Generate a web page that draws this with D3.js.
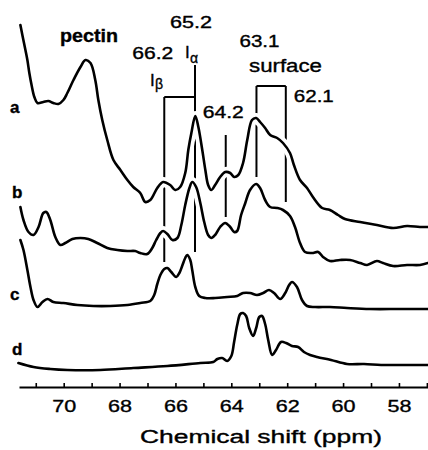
<!DOCTYPE html>
<html><head><meta charset="utf-8">
<script src="https://cdn.jsdelivr.net/npm/d3@7"></script>
<style>body{margin:0;background:#fff} svg{display:block}</style>
</head><body>
<svg id="chart" width="428" height="450"></svg>
<script>
// ---------------- DATA ----------------
const traceNames = ["a", "b", "c", "d"];

const shiftA = [71.55,71.48,71.37,71.30,71.23,71.15,71.05,70.94,70.73,70.55,70.37,70.19,70.01,69.87,69.65,69.40,69.22,69.04,68.87,68.76,68.62,68.44,68.22,67.97,67.72,67.51,67.26,67.08,66.90,66.65,66.44,66.19,66.01,65.83,65.65,65.54,65.43,65.29,65.18,65.04,64.93,64.83,64.72,64.58,64.40,64.22,64.04,63.90,63.75,63.58,63.43,63.26,63.11,62.97,62.79,62.61,62.36,62.15,61.90,61.76,61.54,61.29,61.08,60.75,60.47,60.18,59.93,59.39,58.79,58.21,57.71,57.25,56.96];
const intA = [202,192,177,167,154,142,130,124,125,126,124,123,127,134,147,160,167,164,147,127,107,87,67,57,47,40,34,25,27,39,45,42,37,40,54,77,94,111,100,77,57,42,37,42,50,55,54,50,52,64,87,107,109,105,99,92,89,84,74,62,47,39,30,19,17,12,8,5,2,-1,1,0,0];

const shiftB = [71.55,71.44,71.26,71.08,70.90,70.73,70.62,70.48,70.30,70.12,69.94,69.69,69.40,69.12,68.80,68.44,68.08,67.72,67.44,67.26,67.01,66.83,66.69,66.54,66.44,66.29,66.11,65.93,65.79,65.65,65.50,65.40,65.26,65.11,64.97,64.83,64.72,64.58,64.40,64.22,64.04,63.90,63.79,63.65,63.50,63.33,63.11,62.97,62.79,62.61,62.36,62.15,61.90,61.72,61.54,61.36,61.11,60.89,60.72,60.47,60.11,59.75,59.39,59.14,58.79,58.57,58.21,57.71,57.25,56.96];
const intB = [56,43,31,28,36,50,51,43,26,18,20,24,25,24,20,15,13,12,12,10,9,15,23,30,32,29,23,25,38,58,75,81,76,60,41,28,25,28,36,40,36,31,32,48,60,73,79,75,63,56,55,53,47,36,20,11,10,11,6,2,3,3,0,-2,2,0,-3,-2,-2,0];

const shiftC = [71.55,71.44,71.30,71.19,71.08,70.94,70.76,70.58,70.37,70.01,69.51,68.94,68.33,67.72,67.26,66.90,66.76,66.65,66.54,66.40,66.29,66.15,65.97,65.86,65.76,65.65,65.58,65.47,65.40,65.29,65.15,64.93,64.58,64.15,63.79,63.58,63.33,63.08,62.86,62.65,62.47,62.25,62.07,61.93,61.83,61.65,61.47,61.29,61.00,60.47,59.86,59.04,57.96,56.96];
const intC = [69,59,39,22,9,2,7,10,7,6,4,3,3,4,6,8,14,25,34,40,41,37,32,36,43,51,54,49,39,22,13,11,11,12,13,16,16,14,16,19,16,10,16,24,27,22,9,3,2,2,1,0,0,0];

const shiftD = [71.62,71.08,70.48,69.87,68.69,67.51,66.29,65.11,64.65,64.50,64.33,64.15,64.00,63.90,63.79,63.68,63.58,63.47,63.36,63.22,63.11,63.00,62.90,62.79,62.68,62.54,62.40,62.22,62.04,61.83,61.61,61.40,61.18,60.93,60.43,59.86,59.25,58.64,58.07,56.96];
const intD = [2,-2,-4,-5,-5,-3,-1,2,3,6,7,4,9,23,40,51,52,49,37,29,37,48,49,41,25,10,15,23,22,19,18,13,10,8,5,1,1,0,0,0];

// assignment markers (positions of the lines) and their labels
const markerShifts = [66.4, 65.3, 64.2, 63.1, 62.05];
const markerLabels = ["66.2", "65.2", "64.2", "63.1", "62.1"];

// axis ticks
const tickValues = [71,70,69,68,67,66,65,64,63,62,61,60,59,58,57];
const tickLabels = [70, 68, 66, 64, 62, 60, 58];
const xTitle = "Chemical shift  (ppm)";

// ---------------- LAYOUT ----------------
const svg = d3.select("#chart");
const W = 428, H = 450;
const axisY = 387;
const x = d3.scaleLinear().domain([71.6, 56.96]).range([19, 428]);
const y = d3.scaleLinear().domain([0, 400]).range([400, 0]);
const traceOffset = {a: 173, b: 137, c: 91, d: 35};
const traces = {
  a: d3.zip(shiftA, intA), b: d3.zip(shiftB, intB),
  c: d3.zip(shiftC, intC), d: d3.zip(shiftD, intD)
};
const FONT = "'Liberation Sans', Arial, Helvetica, sans-serif";

// marker vertical extents (pixels)
const markerTop = [97, 65, 135, 86, 86];
const markerBottom = [262, 252, 217, 177, 202];

const gMark = svg.append("g").attr("stroke", "#000").attr("stroke-width", 2).attr("fill", "none");
markerShifts.forEach((s, i) => {
  gMark.append("line").attr("x1", x(s)).attr("x2", x(s))
    .attr("y1", markerTop[i]).attr("y2", markerBottom[i]);
});
// brackets
gMark.append("line").attr("x1", x(markerShifts[0])).attr("x2", x(markerShifts[1])).attr("y1", 97).attr("y2", 97);
gMark.append("line").attr("x1", x(markerShifts[3])).attr("x2", x(markerShifts[4])).attr("y1", 86).attr("y2", 86);

// traces
const line = (off) => d3.line()
  .x(d => x(d[0]))
  .y(d => y(off + d[1]))
  .curve(d3.curveCatmullRom.alpha(0.5));

const gTr = svg.append("g");
traceNames.forEach(n => {
  gTr.append("path").attr("d", line(traceOffset[n])(traces[n]))
    .attr("fill", "none").attr("stroke", "#fff").attr("stroke-width", 10)
    .attr("stroke-linejoin", "round").attr("stroke-linecap", "round");
});
traceNames.forEach(n => {
  gTr.append("path").attr("d", line(traceOffset[n])(traces[n]))
    .attr("fill", "none").attr("stroke", "#000").attr("stroke-width", 2.6)
    .attr("stroke-linejoin", "round").attr("stroke-linecap", "round");
});

// axis
const axis = d3.axisBottom(x)
  .tickValues(tickValues)
  .tickSizeInner(-4).tickSizeOuter(0)
  .tickPadding(12.5)
  .tickFormat(d => tickLabels.includes(d) ? String(d) : "");
const gAx = svg.append("g").attr("transform", `translate(0,${axisY})`).call(axis);
gAx.select(".domain").attr("stroke", "#000").attr("stroke-width", 2);
gAx.selectAll(".tick line").attr("stroke", "#000").attr("stroke-width", 1.6);
gAx.selectAll(".tick text")
  .attr("font-family", FONT).attr("font-size", 17).attr("fill", "#000")
  .attr("stroke", "#000").attr("stroke-width", 0.35)
  .each(function(d) {
    if (tickLabels.includes(d)) d3.select(this).attr("textLength", 24).attr("lengthAdjust", "spacingAndGlyphs");
  });

// text helper
function label(tx, ty, str, size, len, weight) {
  const t = svg.append("text").attr("x", tx).attr("y", ty)
    .attr("font-family", FONT).attr("font-size", size)
    .attr("font-weight", weight || "normal")
    .attr("fill", "#000").attr("stroke", "#000").attr("stroke-width", 0.35)
    .text(str);
  if (len) t.attr("textLength", len).attr("lengthAdjust", "spacingAndGlyphs");
  return t;
}

label(60, 42, "pectin", 18, 58, "bold");
label(x(markerShifts[0]) - 32, 59, markerLabels[0], 16, 41);
label(x(markerShifts[1]) - 25, 28, markerLabels[1], 16, 42);
label(x(markerShifts[2]) - 23, 118, markerLabels[2], 16, 41);
label(x(markerShifts[3]) - 17, 47, markerLabels[3], 16, 40);
label(x(markerShifts[4]) + 8, 102, markerLabels[4], 16, 40);
label(249, 72, "surface", 18, 73);
// I alpha / I beta
label(185, 58, "I", 17);
label(190, 63, "α", 14);
label(150, 86, "I", 17);
label(155, 89, "β", 14);
// trace letters
label(10, 113, "a", 17, null, "bold");
label(12, 198, "b", 17, null, "bold");
label(10, 300, "c", 17, null, "bold");
label(12, 355, "d", 17, null, "bold");
// axis title
label(140, 443, xTitle, 18, 242);
</script>
</body></html>
